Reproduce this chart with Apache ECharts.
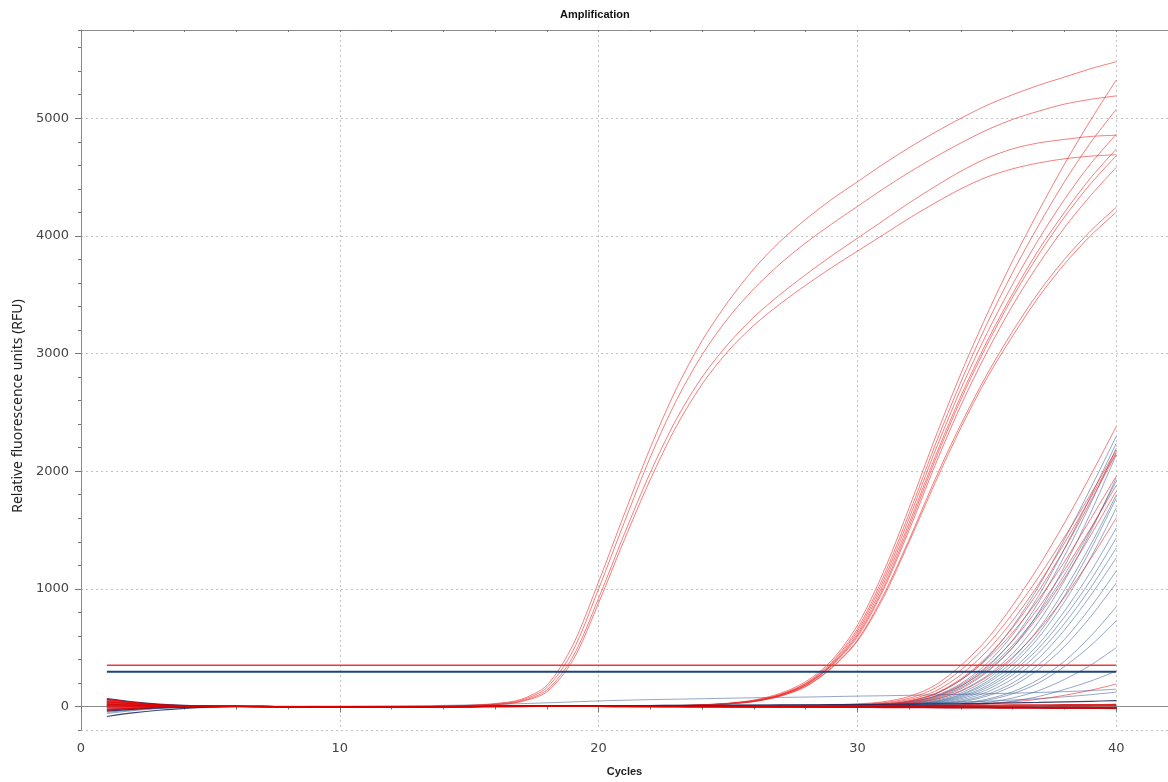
<!DOCTYPE html>
<html>
<head>
<meta charset="utf-8">
<title>Amplification</title>
<script src="https://cdn.jsdelivr.net/npm/echarts@6/dist/echarts.min.js"></script>
<style>
  html, body { margin: 0; padding: 0; background: #fff; }
  #main { width: 1168px; height: 782px; }
</style>
</head>
<body>
<div id="main"></div>
<script>
// x values: PCR cycles
var cycles = [1,2,3,4,5,6,7,8,9,10,11,12,13,14,15,16,17,18,19,20,21,22,23,24,25,26,27,28,29,30,31,32,33,34,35,36,37,38,39,40];

// thresholds (RFU), drawn from first to last cycle
var thresholdCycles = [1, 40];
var thresholdRed = [350, 350];
var thresholdBlue = [295, 295];

// early red wells (Ct ~18-19)
var earlyRed1 = [45,24,11,5,2,0,-2,-3,-4,-5,-6,-6,-5,-2,10,25,60,180,520,1060,1640,2200,2700,3110,3440,3720,3950,4140,4310,4460,4610,4750,4880,5000,5110,5200,5280,5350,5420,5480];
var earlyRed2 = [30,16,7,3,1,0,-2,-4,-5,-6,-6,-5,-4,-1,8,20,52,160,470,1000,1570,2120,2600,2990,3300,3550,3760,3940,4100,4250,4400,4540,4670,4790,4900,4990,5060,5120,5160,5190];
var earlyRed3 = [-20,-10,-4,-1,0,0,-1,-2,-3,-4,-4,-3,-2,0,6,16,45,140,420,920,1470,1990,2440,2800,3080,3310,3500,3670,3830,3980,4130,4280,4420,4550,4660,4740,4790,4820,4845,4856];
var earlyRed4 = [10,5,2,1,0,0,-1,-2,-3,-3,-4,-4,-3,-1,5,14,40,125,390,880,1420,1930,2380,2740,3020,3240,3420,3580,3730,3870,4010,4150,4280,4400,4500,4570,4620,4655,4678,4690];

// middle red wells (Ct ~29)
var midRed1 = [55,30,14,6,2,0,-1,-2,-3,-4,-4,-4,-3,-2,-1,0,0,1,1,2,2,3,8,15,28,55,110,210,390,690,1140,1690,2280,2830,3330,3790,4210,4610,4980,5325];
var midRed2 = [38,20,9,4,1,0,-1,-2,-3,-3,-4,-3,-3,-2,-1,0,0,1,1,1,2,3,7,14,26,50,102,198,375,660,1100,1640,2220,2760,3250,3690,4090,4460,4790,5076];
var midRed3 = [20,11,5,2,1,0,-1,-1,-2,-3,-3,-3,-2,-1,0,0,1,1,1,2,2,3,7,13,25,48,98,192,365,640,1070,1600,2170,2700,3170,3590,3970,4310,4610,4864];
var midRed4 = [-10,-5,-2,-1,0,0,0,-1,-2,-2,-3,-3,-2,-1,0,0,0,1,1,1,2,2,6,12,24,46,95,186,355,620,1040,1560,2120,2640,3100,3510,3880,4200,4490,4737];
var midRed5 = [62,34,16,7,2,0,-1,-2,-3,-4,-5,-5,-4,-3,-2,-1,0,0,1,1,1,2,6,12,24,46,94,183,350,605,1010,1530,2090,2610,3070,3480,3840,4160,4440,4681];
var midRed6 = [5,3,1,0,0,0,-1,-1,-2,-2,-3,-3,-2,-1,-1,0,0,0,1,1,1,2,5,11,23,45,92,180,345,590,990,1500,2050,2560,3010,3410,3760,4070,4340,4582];
var midRed7 = [-28,-15,-7,-3,-1,0,0,0,-1,-1,-2,-2,-1,-1,0,0,0,1,1,1,1,2,5,11,22,42,88,172,330,565,945,1420,1930,2400,2820,3190,3520,3800,4040,4243];
var midRed8 = [42,23,11,5,2,0,-1,-2,-2,-3,-3,-3,-2,-2,-1,0,0,0,0,1,1,2,5,10,22,41,86,168,325,555,925,1400,1900,2370,2790,3150,3480,3760,4000,4201];

// late red wells (Ct ~34-36)
var lateRed1 = [25,14,6,2,1,0,-1,-2,-3,-3,-3,-2,-1,0,0,1,1,1,2,2,2,3,3,4,5,6,8,10,14,22,40,85,180,350,570,860,1190,1560,1960,2379];
var lateRed2 = [10,5,2,1,0,0,-1,-2,-2,-3,-3,-2,-2,-1,0,0,1,1,1,1,2,2,2,3,3,4,5,7,11,18,32,70,155,310,520,790,1100,1440,1800,2180];
var lateRed3 = [-15,-8,-4,-2,-1,0,0,-1,-1,-2,-2,-2,-1,0,0,1,1,2,2,2,2,3,3,3,4,4,5,6,9,14,26,58,130,270,470,730,1040,1390,1770,2160];
var lateRed4 = [35,19,9,4,1,0,-1,-2,-3,-4,-4,-4,-3,-2,-1,0,0,0,1,1,1,1,2,2,2,3,3,4,6,10,20,48,110,235,420,670,980,1340,1740,2150];
var lateRed5 = [55,30,14,6,2,0,-1,-2,-3,-4,-5,-5,-4,-3,-2,-1,0,0,0,1,1,1,1,2,2,2,3,4,6,9,18,45,105,225,400,630,910,1230,1590,1958];
var lateRed6 = [0,0,0,0,0,0,-1,-1,-2,-2,-3,-3,-2,-1,0,0,1,1,1,1,1,2,2,2,3,3,3,4,5,8,15,36,85,185,340,560,840,1160,1510,1880];
var lateRed7 = [-25,-14,-6,-3,-1,0,0,-1,-1,-2,-2,-2,-1,0,0,0,1,1,1,1,1,1,2,2,2,2,3,3,4,6,12,30,72,160,300,500,770,1090,1450,1830];
var lateRed8 = [15,8,4,1,0,0,-1,-2,-2,-3,-3,-3,-2,-1,0,0,0,1,1,1,1,1,1,2,2,2,2,3,4,5,10,24,58,130,250,420,650,930,1250,1602];
var lateRed9 = [48,26,12,5,2,0,-1,-2,-3,-3,-4,-4,-3,-2,-1,0,0,0,0,0,0,0,0,0,0,0,0,0,0,1,2,4,8,14,24,40,62,95,138,190];

// late blue wells (Ct ~34.5-39)
var lateBlue1 = [20,11,5,2,1,0,0,-1,-1,-2,-2,-2,-1,0,0,1,1,1,2,2,2,2,3,3,3,4,4,5,7,11,20,45,105,225,410,680,1020,1420,1850,2296];
var lateBlue2 = [-50,-30,-15,-7,-3,-1,0,-1,-1,-2,-2,-2,-1,0,0,0,1,1,1,1,2,2,2,2,3,3,3,4,6,9,17,38,90,195,365,610,940,1340,1780,2237];
var lateBlue3 = [30,16,7,3,1,0,-1,-1,-2,-2,-3,-3,-2,-1,0,0,0,1,1,1,1,1,2,2,2,2,3,3,5,8,15,33,78,172,330,565,885,1280,1720,2195];
var lateBlue4 = [60,34,16,7,3,1,0,-1,-2,-3,-3,-3,-2,-1,0,0,0,0,1,1,1,1,1,2,2,2,2,3,4,6,12,28,66,150,290,500,800,1190,1640,2138];
var lateBlue5 = [-5,-3,-1,0,0,0,0,-1,-1,-1,-2,-2,-1,-1,0,0,0,0,1,1,1,1,1,1,2,2,2,3,4,6,11,26,60,135,260,450,720,1070,1480,1941];
var lateBlue6 = [40,22,10,4,1,0,-1,-2,-2,-3,-3,-3,-2,-1,0,0,1,1,1,2,2,2,3,3,4,4,5,6,8,12,20,40,85,175,315,520,790,1120,1500,1915];
var lateBlue7 = [-30,-18,-9,-4,-1,0,0,0,-1,-1,-1,-1,0,0,0,1,1,1,1,1,1,2,2,2,2,2,3,3,4,5,9,21,50,115,230,410,660,990,1370,1797];
var lateBlue8 = [12,6,3,1,0,0,-1,-1,-2,-2,-2,-2,-1,0,0,0,0,1,1,1,1,1,1,2,2,2,2,2,3,4,8,18,44,102,210,380,620,940,1330,1771];
var lateBlue9 = [25,14,6,2,1,0,0,-1,-1,-2,-2,-2,-1,0,0,0,0,0,1,1,1,1,1,1,1,2,2,2,3,4,7,16,40,95,195,355,585,890,1260,1686];
var lateBlue10 = [-60,-36,-18,-8,-3,-1,0,0,-1,-1,-1,-1,0,0,0,0,1,1,1,1,1,1,1,1,2,2,2,2,3,4,7,15,36,85,175,320,530,810,1140,1517];
var lateBlue11 = [8,4,2,1,0,0,-1,-1,-1,-2,-2,-2,-1,0,0,0,0,0,0,1,1,1,1,1,1,1,2,2,2,3,6,13,32,76,160,295,495,760,1070,1432];
var lateBlue12 = [35,19,9,4,1,0,0,-1,-1,-2,-2,-2,-1,-1,0,0,0,0,0,0,1,1,1,1,1,1,1,2,2,3,5,11,27,66,142,268,455,705,1005,1347];
var lateBlue13 = [-12,-7,-3,-1,0,0,0,0,-1,-1,-1,-1,-1,0,0,0,0,0,0,0,0,1,1,1,1,1,1,1,2,2,4,9,22,55,122,235,410,650,940,1263];
var lateBlue14 = [50,28,13,6,2,0,-1,-1,-2,-2,-3,-3,-2,-1,0,0,0,0,0,0,0,1,1,1,1,1,1,1,2,2,3,7,18,45,102,200,355,570,840,1152];
var lateBlue15 = [18,10,4,2,0,0,0,-1,-1,-1,-2,-2,-1,-1,0,0,0,0,0,0,0,0,1,1,1,1,1,1,1,2,3,6,15,38,88,175,315,510,760,1050];
var lateBlue16 = [-35,-20,-10,-4,-1,0,0,0,0,-1,-1,-1,0,0,0,0,0,0,0,0,0,0,1,1,1,1,1,1,1,2,3,5,11,27,62,125,230,385,595,847];
var lateBlue17 = [28,15,7,3,1,0,0,-1,-1,-1,-2,-2,-1,-1,0,0,0,0,0,0,0,0,0,0,1,1,1,1,1,1,2,4,9,22,52,108,200,340,515,729];
var lateBlue18 = [-8,-4,-2,-1,0,0,0,0,0,0,-1,-1,-1,0,0,0,0,0,0,0,0,0,0,0,0,1,1,1,1,1,2,3,6,14,34,72,135,230,350,500];
var lateBlue19 = [45,25,12,5,2,0,0,-1,-1,-2,-2,-2,-2,-1,-1,0,0,0,0,0,0,0,0,0,0,0,0,0,1,1,2,3,5,10,22,45,85,145,215,300];

// slowly drifting blue wells
var driftBlue1 = [-20,-12,-6,-2,0,1,1,1,2,2,3,4,6,9,13,18,24,31,39,47,53,58,62,66,70,74,77,80,84,88,91,95,99,103,108,113,119,126,135,147];
var driftBlue2 = [10,6,3,1,0,0,0,0,1,1,1,2,2,3,3,4,5,5,6,7,8,9,10,11,12,13,14,15,17,19,22,26,31,37,45,55,67,82,100,122];

// negative / flat wells
var flatRed1 = [62,34,16,7,2,0,-1,-2,-3,-4,-5,-5,-4,-3,-2,-1,0,1,1,0,0,-1,-1,-2,-2,-3,-3,-4,-4,-5,-5,-6,-6,-7,-8,-8,-9,-10,-10,-11];
var flatRed2 = [20,11,5,2,1,0,-1,-2,-3,-3,-4,-4,-3,-2,-1,0,0,0,1,1,0,0,-1,-1,-1,-2,-2,-2,-3,-3,-4,-4,-5,-5,-6,-6,-7,-7,-8,-8];
var flatRed3 = [-31,-17,-8,-3,-1,0,0,-1,-2,-3,-3,-4,-3,-2,-1,0,1,1,2,2,1,1,0,0,0,1,2,3,4,5,6,7,9,10,12,13,14,15,16,18];
var flatRed4 = [5,3,1,0,0,0,-1,-2,-3,-4,-5,-6,-5,-4,-3,-2,-1,0,0,0,-1,-1,-2,-3,-3,-4,-5,-6,-7,-8,-9,-10,-11,-12,-13,-14,-15,-16,-17,-18];
var flatRed5 = [40,22,10,4,1,0,0,-1,-2,-3,-3,-3,-2,-1,0,1,1,2,2,2,1,1,1,0,0,0,0,1,1,2,2,3,3,4,5,5,6,7,8,9];
var flatBlue1 = [-85,-55,-32,-16,-6,-2,-1,-2,-3,-4,-4,-4,-3,-2,-1,0,0,1,1,1,0,0,0,-1,-1,-1,-2,-2,-3,-3,-4,-4,-5,-5,-6,-7,-7,-8,-9,-10];
var flatBlue2 = [68,40,20,9,3,1,0,-1,-2,-3,-4,-4,-3,-2,-1,0,0,0,0,0,-1,-1,-2,-2,-3,-3,-4,-5,-5,-6,-7,-8,-9,-10,-11,-12,-13,-14,-15,-16];
var flatBlue3 = [-40,-24,-12,-5,-2,0,0,-1,-1,-2,-2,-2,-1,0,1,2,3,4,5,6,7,8,9,10,11,12,13,14,15,16,18,20,22,24,27,30,34,39,44,50];

var blueWells = [lateBlue1,lateBlue2,lateBlue3,lateBlue4,lateBlue5,lateBlue6,lateBlue7,lateBlue8,lateBlue9,lateBlue10,
                 lateBlue11,lateBlue12,lateBlue13,lateBlue14,lateBlue15,lateBlue16,lateBlue17,lateBlue18,lateBlue19,driftBlue1,driftBlue2];
var redWells = [lateRed1,lateRed2,lateRed3,lateRed4,lateRed5,lateRed6,lateRed7,lateRed8,lateRed9,
                midRed1,midRed2,midRed3,midRed4,midRed5,midRed6,midRed7,midRed8,
                earlyRed1,earlyRed2,earlyRed3,earlyRed4];
var flatRedWells = [flatRed1,flatRed2,flatRed3,flatRed4,flatRed5];
var flatBlueWells = [flatBlue1,flatBlue2,flatBlue3];

var RED = 'rgba(238,40,40,0.6)';
var BLUE = 'rgba(40,80,140,0.5)';

function curve(values, color, width, xs) {
    xs = xs || cycles;
    return {
        type: 'line',
        data: values.map(function (v, i) { return [xs[i], v]; }),
        xAxisIndex: 0,
        yAxisIndex: 0,
        showSymbol: false,
        symbol: 'none',
        smooth: 0.3,
        silent: true,
        lineStyle: { color: color, width: width }
    };
}

var series = [];
blueWells.forEach(function (w) { series.push(curve(w, BLUE, 1)); });
redWells.forEach(function (w) { series.push(curve(w, RED, 1)); });
flatBlueWells.forEach(function (w) { series.push(curve(w, 'rgba(25,35,90,0.85)', 1.2)); });
flatRedWells.forEach(function (w) { series.push(curve(w, 'rgba(220,0,0,0.85)', 1.2)); });
series.push(curve(thresholdRed, '#ee3a3a', 1.6, thresholdCycles));
series.push(curve(thresholdBlue, '#1d4676', 2, thresholdCycles));

var labelFont = { color: '#444', fontSize: 13, fontFamily: 'DejaVu Sans' };
var gridLine = { show: true, lineStyle: { color: '#c4c4c4', type: [2, 3], width: 1 } };
var axisLine = { show: true, lineStyle: { color: '#8a8a8a', width: 1 } };

var chart = echarts.init(document.getElementById('main'));
chart.setOption({
    animation: false,
    backgroundColor: '#fff',
    title: {
        text: 'Amplification',
        left: 560,
        top: 9,
        padding: 0,
        textStyle: { fontSize: 11, fontWeight: 'bold', color: '#111', fontFamily: 'Liberation Sans' }
    },
    grid: { left: 81, right: -6, top: 30, bottom: 50 },
    xAxis: [
        {   // main cycle axis: labels, major ticks, grid
            type: 'value', min: 0, max: 42, interval: 10,
            position: 'bottom',
            name: 'Cycles', nameLocation: 'middle', nameGap: 36,
            nameTextStyle: { fontSize: 11, fontWeight: 'bold', color: '#222', fontFamily: 'Liberation Sans' },
            axisLine: axisLine,
            axisTick: { show: true, length: 6, lineStyle: { color: '#777' } },
            axisLabel: Object.assign({ margin: 12, showMaxLabel: false }, labelFont),
            splitLine: gridLine
        },
        {   // small ticks every 2 cycles
            type: 'value', min: 0, max: 42, interval: 2,
            position: 'bottom',
            axisLine: { show: false },
            axisTick: { show: true, length: 3, lineStyle: { color: '#777' } },
            axisLabel: { show: false },
            splitLine: { show: false }
        },
        {   // top frame
            type: 'value', min: 0, max: 42, interval: 2,
            position: 'top',
            axisLine: axisLine,
            axisTick: { show: true, length: 2, inside: true, lineStyle: { color: '#777' } },
            axisLabel: { show: false },
            splitLine: { show: false }
        }
    ],
    yAxis: [
        {
            type: 'value', min: -200, max: 5750, splitNumber: 6,
            position: 'left',
            name: 'Relative fluorescence units (RFU)', nameLocation: 'middle', nameGap: 50,
            nameTextStyle: { fontSize: 14, color: '#222', fontFamily: 'Noto Sans', padding: [0, 52, 0, 0] },
            axisLine: axisLine,
            axisTick: { show: true, length: 6, lineStyle: { color: '#777' } },
            axisLabel: Object.assign({
                margin: 12, showMinLabel: false, showMaxLabel: false,
                formatter: function (v) { return String(v); }
            }, labelFont),
            splitLine: gridLine
        },
        {
            type: 'value', min: -200, max: 5750, interval: 200,
            position: 'left',
            axisLine: { show: false },
            axisTick: { show: true, length: 3, lineStyle: { color: '#777' } },
            axisLabel: { show: false },
            splitLine: { show: false }
        }
    ],
    series: series
});
</script>
</body>
</html>
